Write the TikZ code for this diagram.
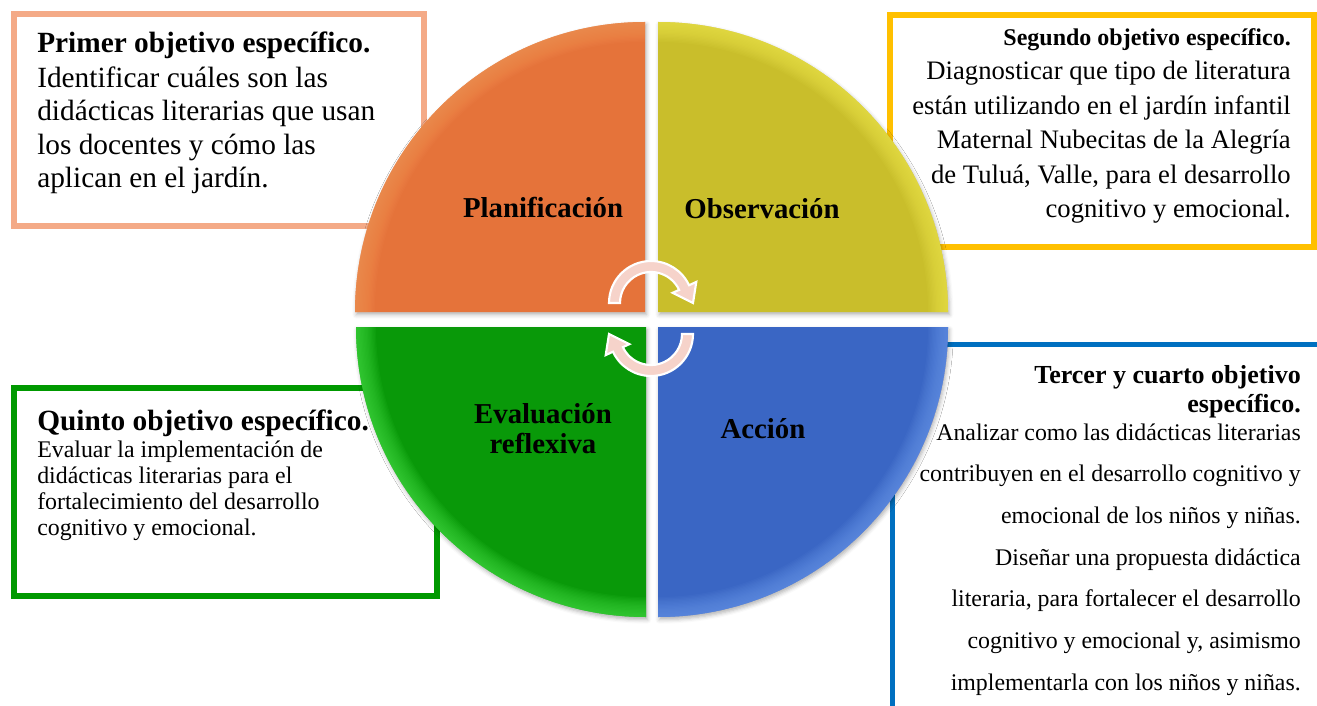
\documentclass[tikz,border=0pt]{standalone}
\usepackage{fontspec}
\setmainfont{Liberation Serif}
\usetikzlibrary{shadows.blur}
\definecolor{bxSalmon}{HTML}{F4AA87}
\definecolor{bxGold}{HTML}{FFC000}
\definecolor{bxGreen}{HTML}{009900}
\definecolor{bxBlue}{HTML}{0070C0}
\definecolor{qOr}{HTML}{E5733A}
\definecolor{qOrL}{HTML}{F79A5A}
\definecolor{qYe}{HTML}{C9BE2B}
\definecolor{qYeL}{HTML}{F2EA50}
\definecolor{qGr}{HTML}{099909}
\definecolor{qGrL}{HTML}{48E048}
\definecolor{qBl}{HTML}{3A66C4}
\definecolor{qBlL}{HTML}{6C9AEE}
\definecolor{arPink}{HTML}{F6D3CA}
\newcommand\fPrim{\fontsize{22}{25}\selectfont}
\newcommand\fSegT{\bfseries\fontsize{18}{20}\selectfont}
\newcommand\fSegB{\fontsize{20}{24}\selectfont}
\newcommand\fTerT{\bfseries\fontsize{19.5}{22}\selectfont}
\newcommand\fTerB{\fontsize{17.9}{20}\selectfont}
\newcommand\fQuiB{\fontsize{17.9}{20}\selectfont}
\begin{document}
\begin{tikzpicture}[x=0.75pt,y=-0.75pt,
  boxframe/.style={draw=#1, line width=4.5pt, inner sep=0pt, fill=white},
  qlabel/.style={font=\bfseries\fontsize{21.6}{22}\selectfont, anchor=base, inner sep=0pt},
  tL/.style={anchor=base west, inner sep=0pt},
  tR/.style={anchor=base east, inner sep=0pt},
  cyclearrow/.pic={
    \path[fill=arPink, draw=white, line width=1.6pt, line join=miter]
      (-42,0) arc[start angle=180, end angle=335, radius=42]
      -- (45.3,-21.1) -- (42,0) -- (21.7,-10.2) -- (28.1,-13.1)
      arc[start angle=335, end angle=180, radius=31] -- cycle;
  }]
\useasboundingbox (0,0) rectangle (1317,706);
\clip (0,0) rectangle (1317,706);

% frames
\node[boxframe=bxSalmon, minimum width=307.5pt, minimum height=159pt] (primbox) at (219,120) {};
\node[boxframe=bxGold, minimum width=318pt, minimum height=174pt] (segbox) at (1102,131) {};
\node[boxframe=bxGreen, minimum width=317.25pt, minimum height=156pt] (quibox) at (225.5,492) {};
\node[boxframe=bxBlue, line width=3.75pt, minimum width=335.6pt, minimum height=289pt] (terbox) at (1116.25,537.25) {};

% quadrants
\foreach \cx/\cy/\sa/\base/\lite in {645/312/180/qOr/qOrL, 658/312/270/qYe/qYeL, 658/327/0/qBl/qBlL, 646/327/90/qGr/qGrL}{
  \fill[\base, blur shadow={shadow xshift=1pt, shadow yshift=-2pt, shadow blur radius=3pt, shadow opacity=30}]
    (\cx,\cy) -- ++(\sa:290) arc[start angle=\sa, delta angle=90, radius=290] -- cycle;
  \begin{scope}
    \clip (\cx,\cy) -- ++(\sa:290) arc[start angle=\sa, delta angle=90, radius=290] -- cycle;
    \foreach \w in {30,28,...,2}
      \draw[\lite, line width=\w pt, opacity=.07] (\cx,\cy) circle[radius=290];
  \end{scope}
}

% quadrant labels
\node[qlabel] (plan) at (543,218) {Planificación};
\node[qlabel] (obs) at (762,219) {Observación};
\node[qlabel] (eval1) at (543,423) {Evaluación};
\node[qlabel] (eval2) at (543,453) {reflexiva};
\node[qlabel] (acc) at (763,438) {Acción};

% cycle arrows
\pic (arrowtop) at (651,303) {cyclearrow};
\pic[rotate=180] (arrowbot) at (651,334) {cyclearrow};

% Primer objetivo
\node[tL, font=\bfseries\fPrim] (primT) at (37,53) {Primer objetivo específico.};
\foreach \t [count=\i from 0] in {Identificar cuáles son las, didácticas literarias que usan, los docentes y cómo las, aplican en el jardín.}
  \node[tL, font=\fPrim] (prim-\i) at (37,{87.5+33.5*\i}) {\t};

% Segundo objetivo
\node[tR, font=\fSegT] (segT) at (1291,46) {Segundo objetivo específico.};
\foreach \t [count=\i from 0] in {Diagnosticar que tipo de literatura, están utilizando en el jardín infantil, Maternal Nubecitas de la Alegría, {de Tuluá, Valle, para el desarrollo}, cognitivo y emocional.}
  \node[tR, font=\fSegB] (seg-\i) at (1291,{80+34.5*\i}) {\t};

% Tercer y cuarto objetivo
\node[tR, font=\fTerT] (terT1) at (1301,383) {Tercer y cuarto objetivo};
\node[tR, font=\fTerT] (terT2) at (1301,412) {específico.};
\foreach \t [count=\i from 0] in {Analizar como las didácticas literarias, contribuyen en el desarrollo cognitivo y, emocional de los niños y niñas., Diseñar una propuesta didáctica, {literaria, para fortalecer el desarrollo}, {cognitivo y emocional y, asimismo}, implementarla con los niños y niñas.}
  \node[tR, font=\fTerB] (ter-\i) at (1301,{440+41.7*\i}) {\t};

% Quinto objetivo
\node[tL, font=\bfseries\fPrim] (quiT) at (37,430) {Quinto objetivo específico.};
\foreach \t [count=\i from 0] in {Evaluar la implementación de, didácticas literarias para el, fortalecimiento del desarrollo, cognitivo y emocional.}
  \node[tL, font=\fQuiB] (qui-\i) at (37,{457+26.3*\i}) {\t};
\end{tikzpicture}
\end{document}
